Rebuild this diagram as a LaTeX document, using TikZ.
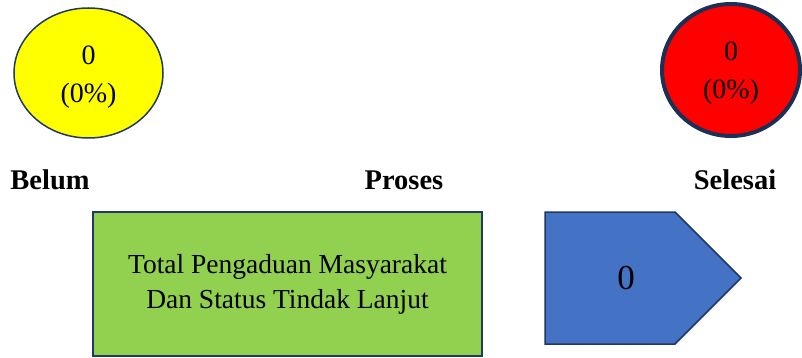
\documentclass[tikz,border=0pt]{standalone}
\usepackage{fontspec}
\setmainfont{Liberation Serif}
\usetikzlibrary{shapes.geometric}
\definecolor{navy}{HTML}{1F3864}
\definecolor{statusyellow}{HTML}{FFFF00}
\definecolor{statusred}{HTML}{FF0000}
\definecolor{boxgreen}{HTML}{92D050}
\definecolor{arrowblue}{HTML}{4472C4}
\newcommand{\bigtext}{\fontsize{27.5}{35}\selectfont}
\newcommand{\circletext}{\fontsize{28}{38}\selectfont}
\newcommand{\statuslabel}{\fontsize{28.5}{30}\selectfont\bfseries}

\begin{document}
\begin{tikzpicture}[x=1pt,y=-1pt,
    status/.style={ellipse, draw=navy, align=center, font=\circletext, inner sep=0pt}]
            \useasboundingbox (0,0) rectangle (802,358);
            % status circles
            \node[status, fill=statusyellow, line width=1.5pt, minimum width=149pt, minimum height=130pt] (belum) at (88.5,73) {};
            \node[align=center, font=\circletext] (belumval) at (88.5,77) {0\\(0\%)};
            \node[status, fill=statusred, line width=4pt, draw=navy!85!black, minimum width=138pt, minimum height=132pt] (selesai) at (731,70) {};
            \node[align=center, font=\circletext] (selesaival) at (731,73) {0\\(0\%)};
            % labels
            \node[font=\statuslabel] (lbelum) at (50,180) {Belum};
            \node[font=\statuslabel] (lproses) at (404,180) {Proses};
            \node[font=\statuslabel] (lselesai) at (735,180) {Selesai};
            % total box
            \node[draw=navy, fill=boxgreen, line width=2pt, minimum width=389pt, minimum height=144pt, align=center, font=\bigtext] (total) at (287.5,284) {Total Pengaduan Masyarakat\\Dan Status Tindak Lanjut};
            % proses arrow
            \draw[draw=navy, fill=arrowblue, line width=1.5pt] (545,212) -- (675,212) -- (741,278) -- (675,344) -- (545,344) -- cycle;
            \node[font=\fontsize{35}{40}\selectfont] (proses) at (626,278) {0};
        \end{tikzpicture}
\end{document}
